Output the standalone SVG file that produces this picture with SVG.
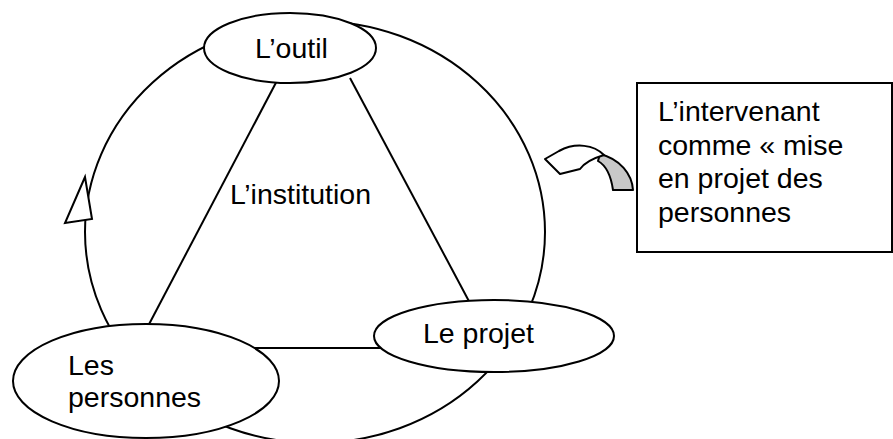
<svg xmlns="http://www.w3.org/2000/svg" width="893" height="439" viewBox="0 0 893 439">
  <style>
    .ln { fill: none; stroke: #000; stroke-width: 2; }
    .node { fill: #fff; stroke: #000; stroke-width: 2; }
    .lbl { font-family: "Liberation Sans", Arial, sans-serif; font-size: 28.5px; fill: #000; }
  </style>
  <rect width="893" height="439" fill="#fff"/>

  <g id="connectors">
    <!-- outer cycle -->
    <ellipse class="ln" cx="315" cy="232" rx="230" ry="211"/>
    <!-- open arrowhead on the cycle -->
    <polygon class="node" points="85,177 65,223 92,219"/>
    <!-- triangle between the three poles -->
    <line class="ln" x1="280" y1="75" x2="146" y2="330"/>
    <line class="ln" x1="350" y1="78" x2="471" y2="305"/>
    <line class="ln" x1="250" y1="348" x2="385" y2="348"/>
  </g>

  <g id="outil">
    <ellipse class="node" cx="290" cy="48" rx="86" ry="35"/>
    <text class="lbl" x="255" y="58">L’outil</text>
  </g>

  <g id="institution">
    <text class="lbl" x="230" y="204">L’institution</text>
  </g>

  <g id="projet">
    <ellipse class="node" cx="494" cy="336" rx="120" ry="36"/>
    <text class="lbl" x="423" y="343">Le projet</text>
  </g>

  <g id="personnes">
    <ellipse class="node" cx="146" cy="381" rx="133" ry="57"/>
    <text class="lbl" x="68" y="375">Les</text>
    <text class="lbl" x="68" y="407">personnes</text>
  </g>

  <g id="intervenant">
    <!-- curved arrow pointing at the cycle: shaded back face, then white front band with head -->
    <path d="M600,154 C620,159 632,174 633,190 L613,190 C611,176 607,166 598,161 Z" fill="#c8c8c8" stroke="#000" stroke-width="2" stroke-linejoin="round"/>
    <path d="M545,159 L559,151 C576,142 594,145 604,155 C594,158 585,162 580,169 L560,174 Z" fill="#fff" stroke="#000" stroke-width="2" stroke-linejoin="round"/>
    <rect class="node" x="637" y="83" width="255" height="169"/>
    <text class="lbl" x="658" y="121">L’intervenant</text>
    <text class="lbl" x="658" y="155">comme « mise</text>
    <text class="lbl" x="658" y="188">en projet des</text>
    <text class="lbl" x="658" y="222">personnes</text>
  </g>
</svg>
